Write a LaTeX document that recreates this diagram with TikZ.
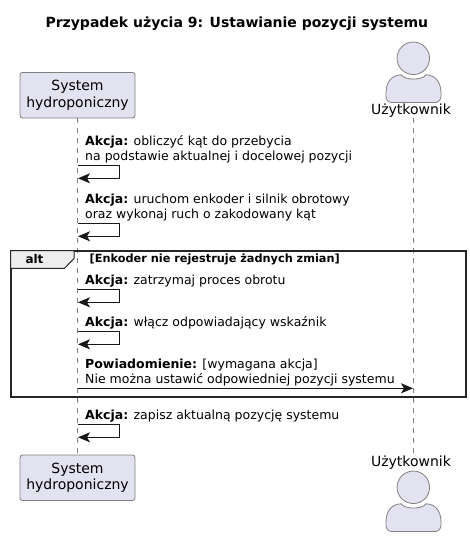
\documentclass[tikz,border=0pt]{standalone}
\usepackage{fontspec}
\setmainfont{DejaVu Sans}
\usetikzlibrary{arrows.meta}
\definecolor{partfill}{HTML}{E2E2F0}
\definecolor{ink}{HTML}{181818}
\definecolor{edge}{HTML}{808080}
\definecolor{tabfill}{HTML}{EEEEEE}
\tikzset{
  partbox/.style={draw=edge,line width=0.8pt,fill=partfill,rounded corners=2.5pt,minimum width=115pt,minimum height=45.5pt,inner sep=0pt,align=center,font=\fontsize{14}{16.3}\selectfont},
  partlabel/.style={inner sep=0pt,font=\fontsize{14}{16}\selectfont,minimum height=15pt},
  lifeline/.style={draw=edge,line width=0.7pt,dash pattern=on 5pt off 5pt},
  msg/.style={draw=ink,line width=1pt,-{Stealth[length=12pt,width=10pt,inset=3pt]}},
  msgtext/.style={anchor=base west,inner sep=0pt,align=left,font=\fontsize{12.5}{15.2}\selectfont,text=black},
  actorshape/.style={draw=edge,line width=0.8pt,fill=partfill},
  altframe/.style={draw=black!85,line width=2pt},
}
\begin{document}
\begin{tikzpicture}[x=1pt,y=-1pt]
\useasboundingbox (0,0) rectangle (470,537);
\node[inner sep=0pt,anchor=base,font=\fontsize{14}{16}\selectfont\bfseries] (title) at (236.8,27.5) {Przypadek użycia 9: Ustawianie pozycji systemu};
\node[partbox] (systop) at (77.5,95.2) {System\\hydroponiczny};
\node[partbox] (sysbot) at (77.5,477.8) {System\\hydroponiczny};
\node[partlabel] (usertop) at (411,110.5) {Użytkownik};
\node[partlabel] (userbot) at (411,463) {Użytkownik};
% lifelines
\coordinate (utl) at (413.3,118);
\coordinate (ubl) at (413.3,454);
\draw[lifeline] (systop.south) -- (sysbot.north);
\draw[lifeline] (utl) -- (ubl);
% actors
\node[actorshape,circle,minimum size=32.5pt,inner sep=0pt] (headtop) at (413.3,58.3) {};
\draw[actorshape] (392,102.5) .. controls (388.5,102.5) and (386,100) .. (386,96.5) -- (386,93) .. controls (386,83) and (391,75) .. (401,74.8) .. controls (405,80.5) and (422,80.5) .. (426,74.8) .. controls (436,75) and (441,83) .. (441,93) -- (441,96.5) .. controls (441,100) and (438,102.5) .. (435,102.5) -- cycle;
\node[actorshape,circle,minimum size=32.5pt,inner sep=0pt] (headbot) at (413.3,487.3) {};
\draw[actorshape] (392,531.5) .. controls (388.5,531.5) and (386,529) .. (386,525.5) -- (386,522) .. controls (386,512) and (391,504) .. (401,503.8) .. controls (405,509.5) and (422,509.5) .. (426,503.8) .. controls (436,504) and (441,512) .. (441,522) -- (441,525.5) .. controls (441,529) and (438,531.5) .. (435,531.5) -- cycle;
% alt frame
\draw[altframe] (10.5,250.7) rectangle (465.5,396.7);
\draw[line width=1pt,draw=black!85,fill=tabfill] (10.5,250.7) -- (74,250.7) -- (74,258.5) -- (64.5,268.3) -- (10.5,268.3) -- cycle;
\node[inner sep=0pt,anchor=base,font=\fontsize{12}{14}\selectfont\bfseries] (alttag) at (34.5,263.5) {alt};
\node[inner sep=0pt,anchor=base west,font=\fontsize{11.3}{13}\selectfont\bfseries] (guard) at (89.5,262.5) {[Enkoder nie rejestruje żadnych zmian]};
% messages
\coordinate (m1t) at (77.5,165.3); \coordinate (m1b) at (78,178.3);
\coordinate (m2t) at (77.5,223.3); \coordinate (m2b) at (78,236.3);
\coordinate (m3t) at (77.5,289.3); \coordinate (m3b) at (78,302.3);
\coordinate (m4t) at (77.5,331.3); \coordinate (m4b) at (78,344.3);
\coordinate (m5a) at (77.5,388.3); \coordinate (m5b) at (413,388.3);
\coordinate (m6t) at (77.5,424.3); \coordinate (m6b) at (78,437.3);
\draw[msg] (m1t) -- ++(42,0) |- (m1b);
\draw[msg] (m2t) -- ++(42,0) |- (m2b);
\draw[msg] (m3t) -- ++(42,0) |- (m3b);
\draw[msg] (m4t) -- ++(42,0) |- (m4b);
\draw[msg] (m5a) -- (m5b);
\draw[msg] (m6t) -- ++(42,0) |- (m6b);
\node[msgtext] (t1) at (85,161) {\textbf{Akcja:} obliczyć kąt do przebycia\\na podstawie aktualnej i docelowej pozycji};
\node[msgtext] (t2) at (85,218.5) {\textbf{Akcja:} uruchom enkoder i silnik obrotowy\\oraz wykonaj ruch o zakodowany kąt};
\node[msgtext] (t3) at (85,284.5) {\textbf{Akcja:} zatrzymaj proces obrotu};
\node[msgtext] (t4) at (85,326.5) {\textbf{Akcja:} włącz odpowiadający wskaźnik};
\node[msgtext] (t5) at (85,383.5) {\textbf{Powiadomienie:} [wymagana akcja]\\Nie można ustawić odpowiedniej pozycji systemu};
\node[msgtext] (t6) at (85,419.5) {\textbf{Akcja:} zapisz aktualną pozycję systemu};
\end{tikzpicture}
\end{document}
